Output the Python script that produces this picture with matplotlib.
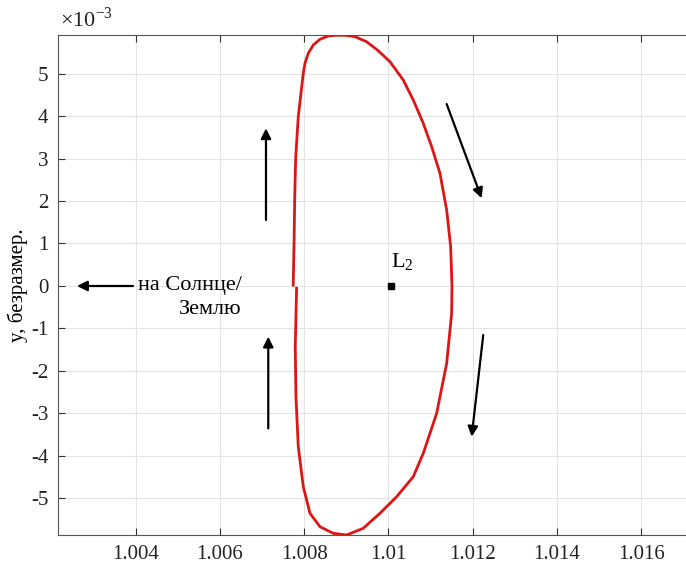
import matplotlib.pyplot as plt

plt.rcParams['font.family'] = ['Liberation Serif', 'DejaVu Serif']
plt.rcParams['mathtext.fontset'] = 'custom'
plt.rcParams['mathtext.rm'] = 'Liberation Serif'

# halo orbit projection (x, y*1e3), starting on the left side at y=0, going up
orbit_x = [1.00774, 1.00776, 1.007775, 1.007798, 1.00786, 1.007979, 1.008019, 1.008097,
           1.008216, 1.008375, 1.008572, 1.008771, 1.008968, 1.009205, 1.009483, 1.009758,
           1.010036, 1.010351, 1.010589, 1.010826, 1.011025, 1.011222, 1.011381, 1.011476,
           1.011507, 1.0115, 1.011381, 1.011144, 1.010826, 1.010589, 1.010195, 1.009798,
           1.009402, 1.009008, 1.008691, 1.008375, 1.008138, 1.007979, 1.00786, 1.007805,
           1.007789, 1.00782]
orbit_y = [0.02, 1.012, 2.024, 3.012, 3.984, 5.005, 5.24, 5.475,
           5.671, 5.805, 5.882, 5.90, 5.90, 5.866, 5.748, 5.536,
           5.278, 4.847, 4.376, 3.828, 3.278, 2.652, 1.788, 0.925,
           0.0, -0.642, -1.819, -2.995, -3.936, -4.487, -4.958, -5.348,
           -5.701, -5.859, -5.819, -5.664, -5.348, -4.722, -3.781, -2.605,
           -1.428, -0.05]

L2_x = 1.010059
L2_y = 0.0

# direction arrows: (x_start, y_start, x_end, y_end)
arrows = [
    (1.007094, 1.553, 1.007094, 3.711),
    (1.007148, -3.349, 1.007148, -1.192),
    (1.011381, 4.282, 1.012211, 2.064),
    (1.012249, -1.153, 1.011974, -3.546),
    (1.003938, 0.0, 1.00261, 0.0),
]

x_ticks = [1.004, 1.006, 1.008, 1.01, 1.012, 1.014, 1.016]
x_tick_labels = ['1.004', '1.006', '1.008', '1.01', '1.012', '1.014', '1.016']
y_ticks = [-5, -4, -3, -2, -1, 0, 1, 2, 3, 4, 5]

fig = plt.figure(figsize=(6.86, 5.73), dpi=100)
ax = fig.add_axes([58 / 686, 38 / 573, 1 - 58 / 686, 500 / 573])

ax.plot(orbit_x, orbit_y, color='#dd1515', lw=2)
ax.plot([L2_x], [L2_y], 's', color='k', markersize=5)
ax.text(L2_x, 0.3, 'L$_{\\mathregular{2}}$', fontsize=16, ha='left', va='bottom')

for x0, y0, x1, y1 in arrows:
    ax.annotate('', xy=(x1, y1), xytext=(x0, y0),
                arrowprops=dict(arrowstyle='-|>', color='k', lw=1.6, mutation_scale=15,
                                shrinkA=0, shrinkB=0))

ax.text(1.00652, 0.0, 'на Солнце/', fontsize=16, ha='right', va='center')
ax.text(1.00652, -0.32, 'Землю', fontsize=16, ha='right', va='top')

ax.set_xlim(1.002159, 1.01706)
ax.set_ylim(-5.859, 5.906)
ax.set_xticks(x_ticks)
ax.set_xticklabels(x_tick_labels)
ax.set_yticks(y_ticks)
ax.set_yticklabels([str(v) for v in y_ticks])
ax.tick_params(direction='in', length=5, labelsize=15, colors='#333333',
               labelcolor='#222222', top=True, pad=7)
ax.grid(True, color='#e3e3e3', lw=0.8)
ax.set_axisbelow(True)
for side in ['left', 'bottom', 'top']:
    ax.spines[side].set_color('#555555')
ax.spines['right'].set_visible(False)

ax.set_ylabel('y, безразмер.', fontsize=15)
ax.yaxis.set_label_coords(-0.047, 0.5)
fig.text(60 / 686, 1 - 20 / 573, '×10$^{\\mathregular{-3}}$', fontsize=16,
         ha='left', va='center', color='#222222')

plt.savefig('out.png', dpi=100)
